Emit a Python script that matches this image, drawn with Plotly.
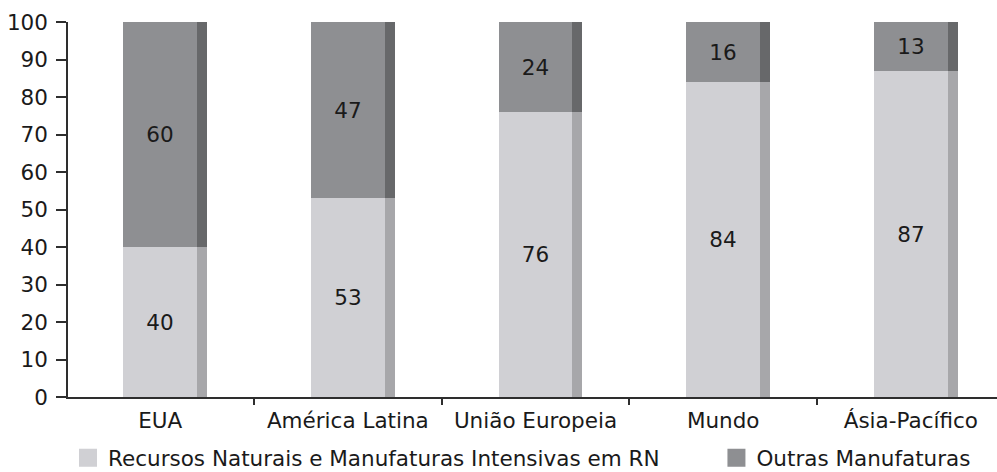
import plotly.graph_objects as go

# Share of exports by technological intensity (%)
regions = ["EUA", "América Latina", "União Europeia", "Mundo", "Ásia-Pacífico"]
recursos_naturais = [40, 53, 76, 84, 87]
outras_manufaturas = [60, 47, 24, 16, 13]
series_names = ["Recursos Naturais e Manufaturas Intensivas em RN", "Outras Manufaturas"]
y_ticks = [0, 10, 20, 30, 40, 50, 60, 70, 80, 90, 100]

FONT = "DejaVu Sans"
TXT = "#1a1a1a"
AX = "#2e2e2e"

light_face, light_side = "#d0d0d4", "#a7a7aa"
dark_face, dark_side = "#8e8f92", "#67686a"

face_w, side_w = 0.394, 0.053

fig = go.Figure()

segments = [
    (recursos_naturais, [0] * len(regions), light_face, light_side),
    (outras_manufaturas, recursos_naturais, dark_face, dark_side),
]
for vals, base, face, side in segments:
    # front face carrying the value label
    fig.add_trace(go.Bar(
        x=regions, y=vals, base=base, width=face_w, offset=-face_w / 2,
        marker=dict(color=face, line=dict(width=0)),
        text=[str(v) for v in vals], textposition="inside",
        insidetextanchor="middle", textangle=0,
        textfont=dict(family=FONT, size=21.5, color=TXT),
        showlegend=False, hoverinfo="skip",
    ))
    # shaded side strip
    fig.add_trace(go.Bar(
        x=regions, y=vals, base=base, width=side_w, offset=face_w / 2,
        marker=dict(color=side, line=dict(width=0)),
        showlegend=False, hoverinfo="skip",
    ))

# legend entries
for name, color, leg in [(series_names[0], light_face, "legend"),
                         (series_names[1], dark_face, "legend2")]:
    fig.add_trace(go.Scatter(
        x=[None], y=[None], mode="markers", name=name, legend=leg,
        marker=dict(symbol="square", size=20, color=color,
                    line=dict(width=2, color=color)),
    ))

legend_style = dict(
    orientation="h", yref="container", yanchor="middle", y=0.03,
    xanchor="left", font=dict(family=FONT, size=21.5, color=TXT),
    bgcolor="rgba(0,0,0,0)", itemsizing="trace",
)

fig.update_layout(
    width=997, height=472,
    margin=dict(l=68, r=0, t=22, b=75, autoexpand=False),
    plot_bgcolor="white", paper_bgcolor="white",
    barmode="overlay", bargap=0,
    legend=dict(x=0.0, **legend_style),
    legend2=dict(x=0.698, **legend_style),
    font=dict(family=FONT, color=TXT),
)

fig.update_xaxes(
    type="category", range=[-0.491, 4.459], automargin=False,
    tickson="boundaries", ticks="outside", ticklen=6, tickwidth=1.5,
    tickcolor=AX, showline=True, linecolor=AX, linewidth=1.5,
    showgrid=False, zeroline=False,
    tickfont=dict(family=FONT, size=21.5, color=TXT), ticklabelstandoff=3,
)
fig.update_yaxes(
    range=[0, 100], tickvals=y_ticks, ticks="outside", ticklen=10,
    automargin=False,
    tickwidth=1.5, tickcolor=AX, showline=True, linecolor=AX,
    linewidth=1.5, showgrid=False, zeroline=False,
    tickfont=dict(family=FONT, size=21.5, color=TXT), ticklabelstandoff=4,
)

fig.write_html("out.html")
